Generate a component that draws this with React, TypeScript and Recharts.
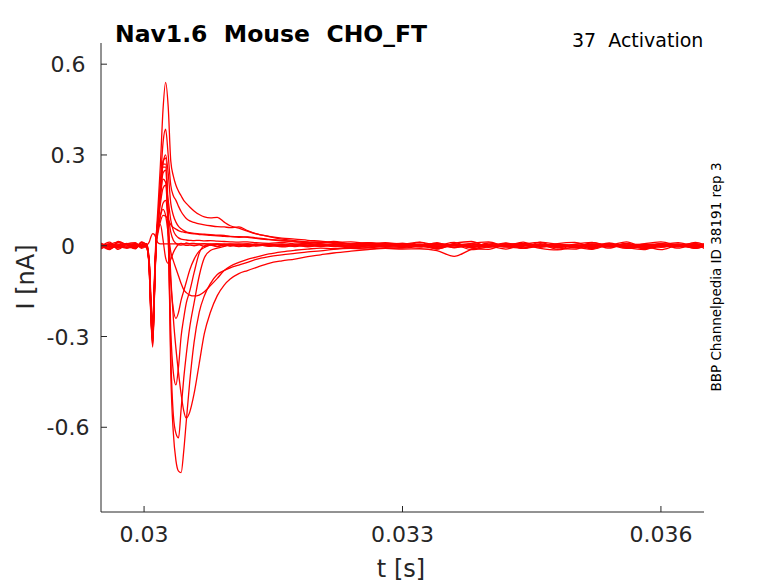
import React from 'react';
import { LineChart, Line, XAxis, YAxis } from 'recharts';

// sample times in seconds (denser around the step onset)
const timeS = [
  0.0295, 0.0296, 0.0297, 0.0298, 0.0299, 0.02997, 0.03003,
  0.03006, 0.03008, 0.0301, 0.03012, 0.03014,
  0.03016, 0.03019, 0.03022, 0.03025, 0.03028,
  0.03031, 0.03034, 0.03037, 0.0304, 0.03043, 0.03046, 0.03049, 0.03053,
  0.03058, 0.03064, 0.0307, 0.03077, 0.03085, 0.03093, 0.031,
  0.0311, 0.0312, 0.0313, 0.03145, 0.0316, 0.03175,
  0.0319, 0.03205, 0.0322, 0.0324, 0.0326, 0.0328, 0.033,
  0.0332, 0.0334, 0.0336, 0.0338, 0.034, 0.0342, 0.0344, 0.0346, 0.0348,
  0.035, 0.0352, 0.0354, 0.0356, 0.0358, 0.036, 0.0362, 0.0364, 0.0365,
];

// currents in nA, one sweep each
const outwardLarge = [
  0.009, -0.011, 0.014, 0.002, -0.01, 0.011, 0.004,
  -0.07, -0.23, -0.33, -0.16, 0.02,
  0.12, 0.27, 0.45, 0.54, 0.46,
  0.28, 0.23, 0.2, 0.18, 0.165, 0.15, 0.14, 0.128,
  0.115, 0.103, 0.095, 0.092, 0.094, 0.078, 0.066,
  0.058, 0.048, 0.039, 0.031, 0.025, 0.022,
  0.018, 0.015, 0.011, 0.013, 0.007, 0.01, 0.005,
  0.012, 0.002, 0.011, -0.006, 0.009, 0.001, 0.012, -0.005, 0.007,
  0.011, -0.003, 0.009, -0.006, 0.006, 0.013, 0.001, -0.006, 0.004,
];
const outwardMid = [
  -0.003, 0.005, -0.008, 0.004, 0.007, -0.002, 0.001,
  -0.06, -0.2, -0.3, -0.15, 0.01,
  0.08, 0.21, 0.34, 0.385, 0.3,
  0.2, 0.165, 0.15, 0.13, 0.113, 0.1, 0.09, 0.082,
  0.077, 0.072, 0.069, 0.066, 0.063, 0.062, 0.06,
  0.062, 0.05, 0.04, 0.03, 0.022, 0.017,
  0.013, 0.01, 0.014, 0.006, 0.009, 0.003, 0.007,
  -0.004, 0.01, -0.007, 0.008, 0.013, -0.002, 0.006, 0.011, -0.007,
  0.005, 0.011, -0.004, 0.008, -0.008, 0.003, 0.01, -0.002, 0.006,
];
const outwardSmall = [
  0.007, 0.0, -0.004, 0.008, -0.002, 0.003, -0.005,
  -0.08, -0.24, -0.31, -0.17, 0.0,
  0.07, 0.18, 0.27, 0.3, 0.24,
  0.14, 0.1, 0.078, 0.064, 0.056, 0.05, 0.046, 0.043,
  0.041, 0.039, 0.038, 0.037, 0.035, 0.034, 0.031,
  0.03, 0.028, 0.024, 0.02, 0.016, 0.013,
  0.011, 0.008, 0.012, 0.005, 0.009, 0.004, 0.008,
  0.003, 0.007, 0.001, 0.005, 0.0, 0.006, 0.002, -0.003, 0.004,
  0.001, 0.005, -0.002, 0.006, 0.002, -0.001, 0.004, 0.007, 0.002,
];
const transientA = [
  -0.007, 0.003, 0.005, -0.006, 0.002, -0.004, 0.006,
  -0.05, -0.19, -0.27, -0.12, 0.02,
  0.07, 0.14, 0.19, 0.2, 0.15,
  0.085, 0.05, 0.034, 0.026, 0.022, 0.02, 0.019, 0.018,
  0.017, 0.018, 0.016, 0.017, 0.015, 0.014, 0.013,
  0.012, 0.013, 0.01, 0.008, 0.011, 0.006,
  0.008, 0.004, 0.007, 0.001, 0.005, 0.008, 0.002,
  -0.002, 0.004, 0.001, -0.004, 0.003, 0.0, 0.005, -0.003, 0.002,
  -0.001, 0.003, -0.004, 0.002, 0.005, -0.002, 0.001, 0.004, -0.001,
];
const transientB = [
  0.002, -0.009, 0.001, 0.006, -0.007, 0.004, -0.002,
  -0.07, -0.21, -0.29, -0.14, 0.01,
  0.05, 0.1, 0.14, 0.15, 0.1,
  0.045, 0.018, 0.008, 0.004, 0.002, 0.003, 0.001, 0.002,
  0.0, 0.003, -0.002, 0.002, 0.004, -0.001, 0.002,
  -0.003, 0.001, 0.004, -0.002, 0.0, 0.003,
  -0.004, 0.001, -0.002, 0.003, -0.005, 0.0, -0.003,
  0.005, -0.01, 0.003, -0.013, -0.003, 0.008, -0.009, 0.004, -0.012,
  0.002, -0.01, 0.006, -0.006, -0.013, 0.004, -0.008, 0.006, -0.009,
];
const transientC = [
  -0.005, 0.004, -0.002, -0.008, 0.005, 0.001, -0.003,
  -0.06, -0.2, -0.28, -0.13, 0.0,
  0.04, 0.08, 0.1, 0.098, 0.085,
  0.07, 0.06, 0.055, 0.05, 0.047, 0.045, 0.043, 0.041,
  0.039, 0.037, 0.036, 0.034, 0.033, 0.031, 0.03,
  0.028, 0.029, 0.026, 0.021, 0.018, 0.014,
  0.011, 0.013, 0.009, 0.006, 0.01, 0.005, 0.008,
  0.004, 0.007, 0.002, 0.006, 0.001, 0.005, 0.008, 0.002, 0.005,
  0.001, 0.006, 0.003, -0.001, 0.004, 0.006, 0.0, 0.003, 0.005,
];
const inwardPeak = [
  0.006, -0.004, 0.003, -0.002, 0.008, -0.006, 0.004,
  -0.08, -0.24, -0.335, -0.17, 0.02,
  0.09, 0.2, 0.28, 0.29, 0.1,
  -0.42, -0.62, -0.71, -0.745, -0.75, -0.68, -0.58, -0.45,
  -0.32, -0.22, -0.165, -0.125, -0.095, -0.082, -0.073,
  -0.064, -0.055, -0.045, -0.036, -0.03, -0.025,
  -0.02, -0.017, -0.012, -0.009, -0.011, -0.006, -0.008,
  -0.003, -0.007, -0.001, -0.005, 0.001, -0.004, -0.008, -0.002, -0.005,
  -0.001, -0.006, 0.002, -0.003, -0.007, 0.0, -0.004, 0.001, -0.003,
];
const inwardFast = [
  -0.004, 0.007, -0.001, 0.005, -0.003, 0.002, -0.006,
  -0.07, -0.22, -0.32, -0.15, 0.01,
  0.08, 0.19, 0.27, 0.27, 0.06,
  -0.36, -0.56, -0.62, -0.635, -0.54, -0.44, -0.36, -0.27,
  -0.19, -0.1, -0.04, -0.016, -0.008, -0.002, 0.003,
  -0.002, 0.004, -0.001, 0.003, -0.004, 0.001,
  0.005, -0.002, 0.003, -0.005, 0.0, 0.004, -0.003,
  0.001, -0.004, 0.003, 0.0, -0.005, 0.002, -0.002, 0.004, -0.004,
  0.002, -0.003, 0.001, 0.005, -0.002, 0.0, 0.003, -0.004, 0.001,
];
const inwardSlow = [
  0.002, -0.013, 0.01, 0.004, -0.009, 0.013, -0.002,
  -0.06, -0.21, -0.3, -0.14, 0.02,
  0.08, 0.17, 0.24, 0.25, 0.1,
  -0.1, -0.24, -0.34, -0.42, -0.49, -0.545, -0.57, -0.55,
  -0.49, -0.39, -0.29, -0.22, -0.165, -0.13, -0.11,
  -0.092, -0.082, -0.072, -0.058, -0.05, -0.044,
  -0.036, -0.03, -0.024, -0.018, -0.013, -0.009, -0.011,
  -0.01, -0.016, -0.035, -0.012, -0.002, -0.011, 0.003, -0.009, -0.014,
  -0.005, -0.012, 0.002, -0.009, -0.003, -0.013, 0.001, -0.008, -0.004,
];
const inwardMid = [
  -0.002, 0.004, -0.006, 0.007, 0.001, -0.003, 0.005,
  -0.08, -0.23, -0.32, -0.16, 0.0,
  0.07, 0.18, 0.26, 0.26, 0.03,
  -0.28, -0.42, -0.46, -0.4, -0.3, -0.24, -0.19, -0.15,
  -0.09, -0.025, 0.0, 0.004, -0.002, 0.003, -0.001,
  0.004, -0.003, 0.002, 0.006, -0.001, 0.003,
  -0.002, 0.004, 0.0, -0.004, 0.002, -0.001, 0.005,
  -0.002, 0.003, -0.005, 0.001, 0.004, -0.003, 0.002, -0.001, 0.003,
  -0.004, 0.001, 0.004, -0.002, 0.002, -0.005, 0.003, 0.0, -0.002,
];
const inwardLow = [
  0.005, -0.002, 0.002, -0.007, 0.004, 0.0, -0.002,
  -0.07, -0.22, -0.31, -0.15, 0.01,
  0.07, 0.16, 0.22, 0.21, 0.06,
  -0.12, -0.21, -0.24, -0.22, -0.18, -0.15, -0.12, -0.08,
  -0.045, -0.018, -0.006, 0.002, -0.003, 0.004, 0.0,
  0.003, -0.002, 0.005, 0.0, 0.004, -0.003,
  0.002, -0.003, 0.004, 0.001, -0.004, 0.003, 0.0,
  0.004, -0.002, 0.002, 0.006, -0.003, 0.001, 0.004, -0.002, 0.0,
  0.003, -0.002, 0.005, 0.0, 0.003, -0.003, 0.002, 0.005, -0.001,
];
const inwardBroad = [
  -0.011, 0.004, 0.012, -0.007, -0.002, 0.009, -0.008,
  -0.06, -0.2, -0.29, -0.13, 0.01,
  0.05, 0.1, 0.12, 0.1, 0.04,
  -0.02, -0.05, -0.075, -0.1, -0.125, -0.145, -0.155, -0.163,
  -0.166, -0.163, -0.152, -0.132, -0.108, -0.082, -0.068,
  -0.055, -0.045, -0.038, -0.027, -0.02, -0.015,
  -0.011, -0.008, -0.01, -0.005, -0.007, -0.002, -0.006,
  0.003, -0.011, 0.006, -0.008, -0.012, 0.004, -0.009, 0.007, -0.006,
  -0.011, 0.004, -0.008, 0.007, -0.01, -0.002, 0.006, -0.009, 0.001,
];
const inwardDip = [
  0.003, -0.005, 0.0, 0.006, -0.006, 0.002, 0.007,
  -0.05, -0.17, -0.26, -0.11, 0.03,
  0.06, 0.07, 0.02, -0.04, -0.058,
  -0.045, -0.022, -0.006, 0.004, 0.008, 0.006, 0.009, 0.007,
  0.008, 0.005, 0.007, 0.004, 0.006, 0.003, 0.005,
  0.002, 0.006, 0.001, 0.004, -0.002, 0.003,
  0.0, 0.004, -0.003, 0.002, 0.005, -0.001, 0.003,
  -0.003, 0.002, 0.004, -0.002, 0.001, -0.004, 0.003, 0.0, -0.003,
  0.002, -0.002, 0.003, -0.005, 0.001, 0.004, -0.003, 0.002, 0.0,
];
const noResponse = [
  -0.003, 0.012, -0.012, 0.006, 0.01, -0.009, 0.001,
  0.012, 0.03, 0.04, 0.037, 0.024,
  0.01, 0.006, 0.006, 0.006, 0.006,
  0.006, 0.006, 0.006, 0.006, 0.006, 0.006, 0.006, 0.006,
  0.006, 0.006, 0.006, 0.006, 0.006, 0.006, 0.006,
  0.006, 0.006, 0.005, 0.004, 0.006, 0.002,
  0.006, 0.0, 0.004, -0.002, 0.003, 0.006, 0.0,
  0.011, -0.005, 0.008, 0.014, -0.003, 0.009, -0.007, 0.012, 0.004,
  -0.007, 0.01, 0.002, 0.013, -0.005, 0.008, -0.002, 0.011, 0.004,
];

const sweeps = [
  noResponse, inwardDip, transientB, transientA, transientC, outwardSmall, outwardMid,
  outwardLarge, inwardLow, inwardBroad, inwardMid, inwardSlow, inwardFast, inwardPeak,
];

const xTicks = [0.03, 0.033, 0.036];
const yTicks = [-0.6, -0.3, 0, 0.3, 0.6];

const rows = timeS.map((t, i) => {
  const row: Record<string, number> = { t };
  sweeps.forEach((s, k) => {
    row['s' + k] = s[i];
  });
  return row;
});

const AXIS = '#262626';
const FONT = '"DejaVu Sans", sans-serif';

const XTick = ({ x, y, payload }: any) => (
  <g>
    <line x1={x} y1={y} x2={x} y2={y - 6} stroke={AXIS} strokeWidth={1} />
    <text x={x} y={y + 30} textAnchor="middle" fill={AXIS} fontSize={22} fontFamily={FONT}>
      {String(payload.value)}
    </text>
  </g>
);

const YTick = ({ x, y, payload }: any) => (
  <g>
    <line x1={x} y1={y} x2={x + 6} y2={y} stroke={AXIS} strokeWidth={1} />
    <text x={x - 33} y={y + 8} textAnchor="middle" fill={AXIS} fontSize={22} fontFamily={FONT}>
      {String(payload.value)}
    </text>
  </g>
);

export default function App() {
  return (
    <div style={{ position: 'absolute', left: 0, top: 0, width: 778, height: 583, background: '#fff' }}>
      <LineChart width={778} height={583} data={rows} margin={{ top: 43, right: 74, bottom: 0, left: 0 }}>
        <XAxis
          dataKey="t"
          type="number"
          domain={[0.0295, 0.0365]}
          ticks={xTicks}
          allowDataOverflow
          height={71}
          tickSize={0}
          tickMargin={0}
          tickLine={false}
          axisLine={{ stroke: AXIS, strokeWidth: 1 }}
          tick={XTick}
        />
        <YAxis
          type="number"
          domain={[-0.88, 0.67]}
          ticks={yTicks}
          allowDataOverflow
          width={101}
          tickSize={0}
          tickMargin={0}
          tickLine={false}
          axisLine={{ stroke: AXIS, strokeWidth: 1 }}
          tick={YTick}
        />
        {sweeps.map((_, k) => (
          <Line
            key={k}
            dataKey={'s' + k}
            type="monotone"
            stroke="#ff0000"
            strokeWidth={1.3}
            dot={false}
            activeDot={false}
            isAnimationActive={false}
          />
        ))}
      </LineChart>
      <svg width={778} height={583} style={{ position: 'absolute', left: 0, top: 0, pointerEvents: 'none' }}>
        <text x={115} y={42} fontSize={23.5} fontWeight="bold" fontFamily={FONT} fill="#000" style={{ whiteSpace: 'pre' }}>
          {'Nav1.6  Mouse  CHO_FT'}
        </text>
        <text x={572} y={47} fontSize={19} fontFamily={FONT} fill="#000" style={{ whiteSpace: 'pre' }}>
          {'37  Activation'}
        </text>
        <text x={34} y={277} fontSize={24} fontFamily={FONT} fill={AXIS} textAnchor="middle" transform="rotate(-90 34 277)">
          I [nA]
        </text>
        <text x={401} y={577} fontSize={24} fontFamily={FONT} fill={AXIS} textAnchor="middle">
          t [s]
        </text>
        <text x={721} y={277} fontSize={13.5} fontFamily={FONT} fill="#000" textAnchor="middle" transform="rotate(-90 721 277)">
          BBP Channelpedia ID 38191 rep 3
        </text>
      </svg>
    </div>
  );
}
